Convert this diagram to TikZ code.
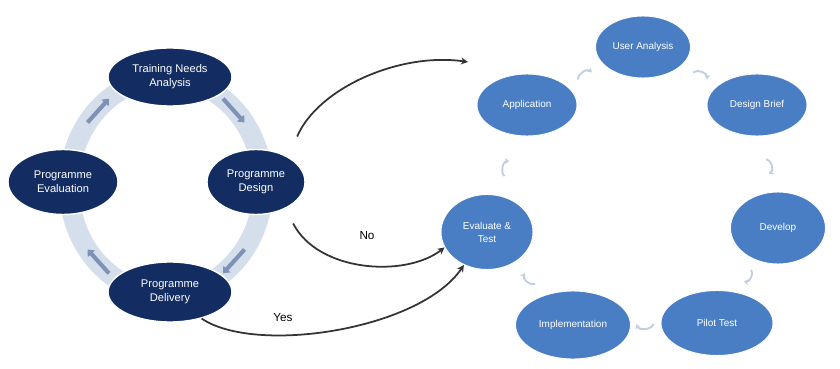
\documentclass[tikz,border=0pt]{standalone}
\usepackage{fontspec}
\setmainfont{Liberation Sans}
\usepackage{tikz}
\usetikzlibrary{positioning}
\usetikzlibrary{calc}
\usetikzlibrary{arrows.meta,shapes.geometric}

\definecolor{navy}{HTML}{132D62}
\definecolor{stepblue}{HTML}{4A7EC4}
\definecolor{ringgrey}{HTML}{D5DFEB}
\definecolor{ringarrow}{HTML}{7D92B6}
\definecolor{cycgrey}{HTML}{C3CEDF}

\begin{document}
\begin{tikzpicture}[x=0.03cm, y=-0.03cm,
    phase/.style={ellipse, draw=white, line width=1.2pt, fill=navy, text=white, align=center,
                  inner sep=0pt, font=\fontsize{9.5}{12}\selectfont},
    stage/.style={ellipse, draw=white, line width=0.8pt, fill=stepblue, text=white, align=center,
                  inner sep=0pt, font=\fontsize{8.5}{11}\selectfont},
    ringarr/.style={line width=3.5pt, ringarrow, -{Triangle[width=8pt,length=5pt]}},
    cyc/.style={line width=1.6pt, cycgrey, -{Stealth[length=4pt,width=5pt]}},
    flow/.style={line width=1.5pt, black!80, -{Stealth[length=6pt,width=6pt]}},
    answer/.style={font=\fontsize{10}{12}\selectfont}
]
\useasboundingbox (0,0) rectangle (840,369);

% Ring behind the training cycle
\draw[ringgrey, line width=0.6cm] (166,186) ellipse [x radius=2.91cm, y radius=3.24cm];
\foreach \t in {-45,45,135,225}
  \draw[ringarr] ({166+97*cos(\t-9)},{186+108*sin(\t-9)}) -- ({166+97*cos(\t+9)},{186+108*sin(\t+9)});

% Training cycle
\node[phase, minimum width=3.72cm, minimum height=1.74cm] (tna) at (170,77) {Training Needs\\Analysis};
\node[phase, minimum width=2.94cm, minimum height=1.95cm] (design) at (256,182) {Programme\\Design};
\node[phase, minimum width=3.72cm, minimum height=1.8cm] (delivery) at (170,292) {Programme\\Delivery};
\node[phase, minimum width=3.3cm, minimum height=1.95cm] (evaluation) at (63,182) {Programme\\Evaluation};

% Design cycle
\node[stage, minimum width=2.85cm, minimum height=1.86cm] (users) at (643,47) {User Analysis};
\node[stage, minimum width=3.0cm, minimum height=1.86cm] (application) at (527,105) {Application};
\node[stage, minimum width=3.0cm, minimum height=1.86cm] (brief) at (757,105) {Design Brief};
\node[stage, minimum width=2.85cm, minimum height=2.16cm] (develop) at (778,228) {Develop};
\node[stage, minimum width=3.36cm, minimum height=1.95cm] (pilot) at (717,323) {Pilot Test};
\node[stage, minimum width=3.45cm, minimum height=2.04cm] (implement) at (573,325) {Implementation};
\node[stage, minimum width=2.76cm, minimum height=2.25cm] (review) at (487,232) {Evaluate \&\\Test};

% Small arrows round the design cycle
\foreach \a/\b in {application/users, users/brief, brief/develop, develop/pilot,
                   pilot/implement, implement/review, review/application}
  \draw[cyc] ($(\a)!0.44!(\b)$) to[bend left=70] ($(\a)!0.56!(\b)$);

% Links between the two cycles
\coordinate (appin) at (468,62);
\draw[flow] ($(design.north east)+(6,-22)$) .. controls (318,88) and (400,52) .. (appin);

\draw[flow] ($(design.south east)+(2,18)$) .. controls (318,272) and (405,278) .. (review.200);
\node[answer] (no) at (367,236) {No};

\draw[flow] (delivery.-40) .. controls (255,355) and (420,330) .. (review.235);
\node[answer] (yes) at (283,318) {Yes};

\end{tikzpicture}
\end{document}
